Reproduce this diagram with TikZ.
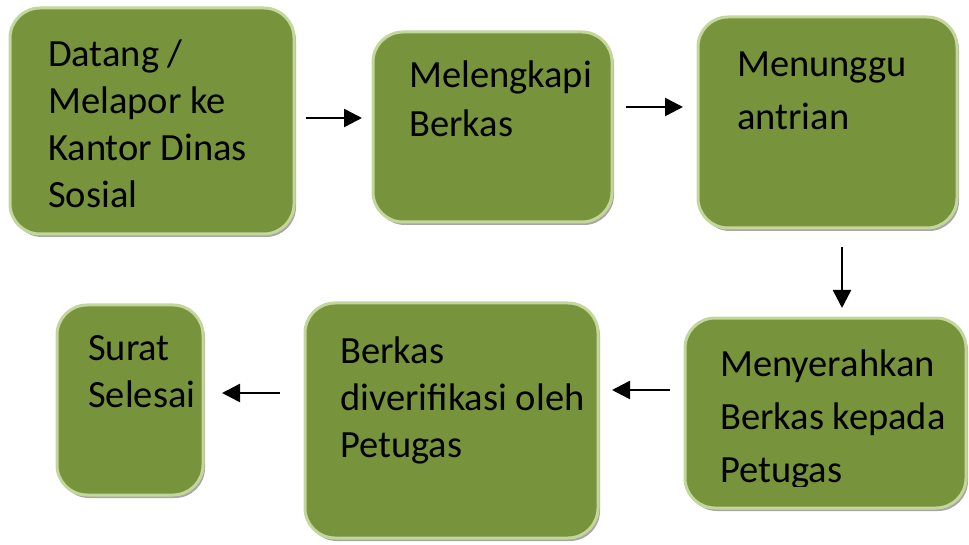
\documentclass[tikz,border=0pt]{standalone}
\usepackage{fontspec}
\setmainfont{Carlito}
\usetikzlibrary{shadows,arrows.meta}
\definecolor{kotak}{HTML}{77933C}
\definecolor{tepi}{HTML}{C3D69B}

\begin{document}
\begin{tikzpicture}[x=1pt, y=-1pt,
    box/.style={draw=tepi, fill=kotak, line width=3pt, rounded corners=30pt,
        outer sep=0pt, inner sep=0pt,
        drop shadow={shadow xshift=2pt, shadow yshift=-3pt, fill=black, opacity=0.35}},
    lbl/.style={anchor=base west, inner sep=0pt, align=left,
        font=\fontsize{38.5}{47}\selectfont},
    arr/.style={-{Triangle[length=18pt, width=18pt]}, line width=2.5pt}]
        \useasboundingbox (0, 0) rectangle (969, 545);

        % kotak-kotak alur
        \node[box, minimum width=284pt, minimum height=226pt] (b1) at (152, 121) {};
        \node[box, minimum width=239pt, minimum height=190pt] (b2) at (492.5, 127) {};
        \node[box, minimum width=259pt, minimum height=211pt] (b3) at (827.5, 122.5) {};
        \node[box, minimum width=281pt, minimum height=190pt] (b4) at (825.5, 413) {};
        \node[box, minimum width=293pt, minimum height=235pt] (b5) at (451.5, 420.5) {};
        \node[box, minimum width=146pt, minimum height=190pt] (b6) at (130, 400) {};

        % teks (titik = garis dasar baris terakhir)
        \node[lbl] (t1) at (48, 208) {Datang /\\Melapor ke\\Kantor Dinas\\Sosial};
        \node[lbl] (t2) at (409, 137) {Melengkapi\\[2pt]Berkas};
        \node[lbl] (t3) at (737, 130) {Menunggu\\[6pt]antrian};
        \begin{scope}
            \clip (680, 300) rectangle (969, 486);
            \node[lbl] (t4) at (720, 482) {Menyerahkan\\[6pt]Berkas kepada\\[6pt]Petugas};
        \end{scope}
        \node[lbl] (t5) at (340, 457) {Berkas\\diverifikasi oleh\\Petugas};
        \node[lbl] (t6) at (88, 407) {Surat\\Selesai};

        % panah
        \draw[arr, shorten <=12pt, shorten >=11pt] ([yshift=3pt]b1.east) -- ([yshift=3pt]b1.east -| b2.west);
        \draw[arr, shorten <=14pt, shorten >=15pt] ([yshift=20pt]b2.east) -- ([yshift=20pt]b2.east -| b3.west);
        \draw[arr, shorten <=19pt, shorten >=10pt] ([xshift=14.5pt]b3.south) -- ([xshift=14.5pt]b3.south |- b4.north);
        \draw[arr, shorten <=15pt, shorten >=14pt] ([yshift=23pt]b4.west) -- ([yshift=23pt]b4.west -| b5.east);
        \draw[arr, shorten <=25pt, shorten >=19pt] ([yshift=27.5pt]b5.west) -- ([yshift=27.5pt]b5.west -| b6.east);
    \end{tikzpicture}
\end{document}
